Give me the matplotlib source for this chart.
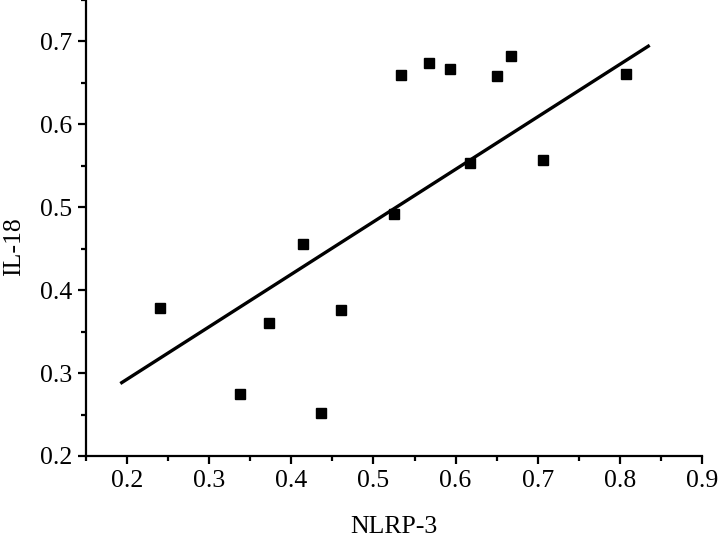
import matplotlib
matplotlib.use("Agg")
import matplotlib.pyplot as plt
import numpy as np
from matplotlib.ticker import MultipleLocator

plt.rcParams['font.family'] = ['Liberation Serif', 'DejaVu Serif']

# data
nlrp3 = [0.240, 0.338, 0.373, 0.414, 0.436, 0.460, 0.525, 0.533,
         0.568, 0.593, 0.618, 0.651, 0.668, 0.706, 0.808]
il18 = [0.378, 0.275, 0.361, 0.456, 0.252, 0.376, 0.492, 0.659,
        0.674, 0.667, 0.553, 0.658, 0.683, 0.557, 0.661]
# fitted line as drawn in the reference
fit_range = [0.1935, 0.8346]
fit_slope = 0.633
fit_intercept = 0.166

xticks = [0.2, 0.3, 0.4, 0.5, 0.6, 0.7, 0.8, 0.9]
yticks = [0.2, 0.3, 0.4, 0.5, 0.6, 0.7]

fig = plt.figure(figsize=(7.18, 5.43), dpi=100)
ax = fig.add_axes([86/718, 87/543, 616/718, 456/543])

ax.plot(nlrp3, il18, 's', color='black', markersize=7.2, zorder=3)

fx = np.array(fit_range)
ax.plot(fx, fit_slope*fx + fit_intercept, color='black', lw=2.4)

ax.set_xlim(0.15, 0.9)
ax.set_ylim(0.2, 0.75)
ax.set_xticks(xticks)
ax.set_yticks(yticks)
ax.xaxis.set_minor_locator(MultipleLocator(0.05))
ax.yaxis.set_minor_locator(MultipleLocator(0.05))
ax.set_xticklabels([f"{v:.1f}" for v in xticks])
ax.set_yticklabels([f"{v:.1f}" for v in yticks])

for s in ['top', 'right']:
    ax.spines[s].set_visible(False)
for s in ['left', 'bottom']:
    ax.spines[s].set_linewidth(1.6)

ax.tick_params(which='major', direction='out', length=6, width=1.6, labelsize=18.5, pad=4)
ax.tick_params(which='minor', direction='out', length=3.5, width=1.6)

ax.set_xlabel('NLRP-3', fontsize=18.5)
ax.set_ylabel('IL-18', fontsize=18.5)
ax.xaxis.set_label_coords(0.5, -0.132)
ax.yaxis.set_label_coords(-0.099, 0.46)

fig.savefig('out.png', dpi=100)
